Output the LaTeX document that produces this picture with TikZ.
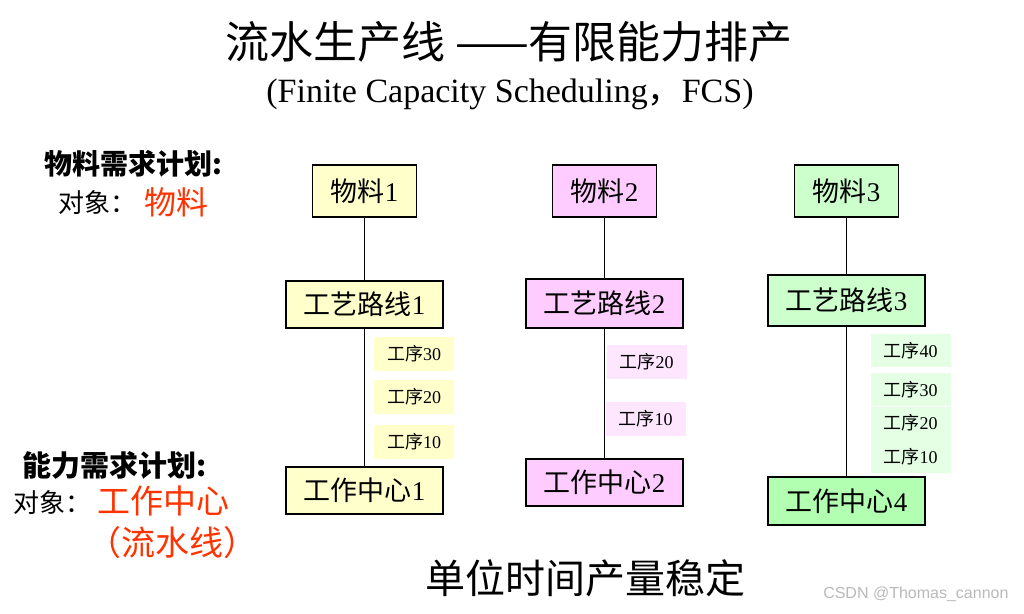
\documentclass[tikz,border=0pt]{standalone}
\usepackage{fontspec}
\setmainfont{Liberation Serif}
\newfontfamily\cjk{Noto Sans CJK SC}
\newfontfamily\wmfont{Liberation Sans}
\newcommand{\zh}[1]{{\cjk #1}}
\newcommand{\fs}[1]{\fontsize{#1}{#1}\selectfont}

\definecolor{cyel}{RGB}{255,255,204}
\definecolor{cpink}{RGB}{255,204,255}
\definecolor{cpinkl}{RGB}{255,230,255}
\definecolor{cgrn}{RGB}{204,255,204}
\definecolor{cgrnl}{RGB}{228,255,228}
\definecolor{cgrnd}{RGB}{178,255,178}
\definecolor{cred}{RGB}{255,51,0}
\tikzset{px/.style={x=1pt,y=-1pt}}
\tikzset{bigbox/.style={draw,line width=1.2pt,inner sep=0pt,minimum width=157pt,minimum height=47pt,font=\fs{27}},
         matbox/.style={bigbox,minimum width=104pt,minimum height=52pt},
         opbox/.style={inner sep=0pt,minimum width=80pt,minimum height=34pt,font=\fs{18}},
         link/.style={line width=1.2pt},
         note/.style={font=\fs{26}},
         hot/.style={text=cred,font=\fs{32}}}

\begin{document}
\begin{tikzpicture}[px]
    \useasboundingbox (0,0) rectangle (1024,613);
    \node[font=\fs{44}] (title) at (509,42) {\zh{流水生产线 ——有限能力排产}};
    \node[font=\fs{34}] (sub) at (510,94) {(Finite Capacity Scheduling\zh{，}FCS)};
    % left notes
    \node[note,font=\fs{28}\bfseries] (mrp) at (133,164) {\zh{物料需求计划:}};
    \node[note,anchor=west] (mrpobj) at (55,203) {\zh{对象：}};
    \node[hot] (mrpmat) at (176,202) {\zh{物料}};
    \node[note,font=\fs{29}\bfseries] (crp) at (115,465) {\zh{能力需求计划:}};
    \node[note,anchor=west] (crpobj) at (10,503) {\zh{对象：}};
    \node[hot,font=\fs{33}] (crpwc) at (163,501) {\zh{工作中心}};
    \node[hot,font=\fs{34}] (crpline) at (172,543) {\zh{（流水线）}};
    % column 1
    \node[matbox,fill=cyel] (mat1) at (364.5,191) {\zh{物料}1};
    \node[bigbox,fill=cyel] (route1) at (364.5,304.5) {\zh{工艺路线}1};
    \node[bigbox,fill=cyel] (wc1) at (364.5,490.5) {\zh{工作中心}1};
    \draw[link] (mat1) -- (route1);
    \draw[link] (route1) -- (wc1);
    \node[opbox,fill=cyel] (op130) at (414,354) {\zh{工序}30};
    \node[opbox,fill=cyel] (op120) at (414,396.5) {\zh{工序}20};
    \node[opbox,fill=cyel] (op110) at (414,441.5) {\zh{工序}10};
    % column 2
    \node[matbox,fill=cpink] (mat2) at (604.5,191) {\zh{物料}2};
    \node[bigbox,fill=cpink,minimum height=49pt] (route2) at (604.5,303.5) {\zh{工艺路线}2};
    \node[bigbox,fill=cpink] (wc2) at (604.5,482.5) {\zh{工作中心}2};
    \draw[link] (mat2) -- (route2);
    \draw[link] (route2) -- (wc2);
    \node[opbox,fill=cpinkl] (op220) at (646.5,362) {\zh{工序}20};
    \node[opbox,fill=cpinkl] (op210) at (645.5,418.5) {\zh{工序}10};
    % column 3
    \node[matbox,fill=cgrn] (mat3) at (846.5,191) {\zh{物料}3};
    \node[bigbox,fill=cgrn,minimum height=51pt] (route3) at (846.5,300.5) {\zh{工艺路线}3};
    \node[bigbox,fill=cgrnd,minimum height=48pt] (wc4) at (846.5,501) {\zh{工作中心}4};
    \draw[link] (mat3) -- (route3);
    \draw[link] (route3) -- (wc4);
    \node[opbox,fill=cgrnl,minimum height=33pt] (op340) at (910.5,350.5) {\zh{工序}40};
    \node[opbox,fill=cgrnl,minimum height=33pt] (op330) at (910.5,389.5) {\zh{工序}30};
    \node[opbox,fill=cgrnl,minimum height=33pt] (op320) at (910.5,423) {\zh{工序}20};
    \node[opbox,fill=cgrnl,minimum height=33pt] (op310) at (910.5,456.5) {\zh{工序}10};
    \node[font=\fs{40}] (stable) at (585,578) {\zh{单位时间产量稳定}};
    \node[anchor=east,text=gray!55,font=\wmfont\fs{16}] (wm) at (1012,594) {CSDN @Thomas\_cannon};
\end{tikzpicture}
\end{document}
